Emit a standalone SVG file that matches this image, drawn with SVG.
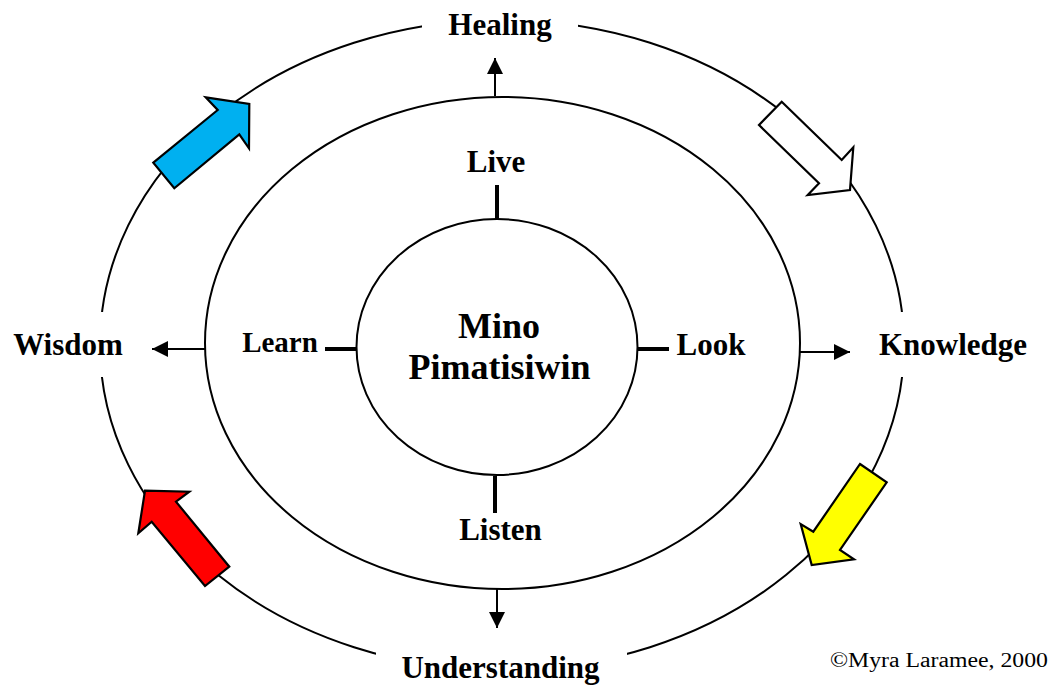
<svg xmlns="http://www.w3.org/2000/svg" width="1053" height="686" viewBox="0 0 1053 686">
<defs>
<style>
.ring{fill:none;stroke:#000;stroke-width:2}
.tick{stroke:#000;stroke-width:4;fill:none}
.con{stroke:#000;stroke-width:2;fill:none}
.lbl{font-family:"Liberation Serif","Times New Roman",serif;font-weight:bold;font-size:31px;fill:#000;text-anchor:middle}
.big{font-size:36px}
.blk{stroke:#000;stroke-width:2.2;stroke-linejoin:miter}
.copy{font-family:"Liberation Serif","Times New Roman",serif;font-size:20px;fill:#000}
</style>
<marker id="ah" viewBox="0 0 10 10" refX="10" refY="5" markerWidth="16" markerHeight="16" markerUnits="userSpaceOnUse" orient="auto">
<path d="M0,0 L10,5 L0,10 Z" fill="#000"/>
</marker>
</defs>
<rect width="1053" height="686" fill="#fff"/>
<g id="outer-ring">
<ellipse class="ring" cx="502" cy="345" rx="402" ry="325"/>
<rect x="422" y="4" width="156" height="46" fill="#fff"/>
<rect x="88" y="312" width="26" height="65" fill="#fff"/>
<rect x="890" y="312" width="26" height="65" fill="#fff"/>
<rect x="376" y="640" width="251" height="46" fill="#fff"/>
</g>
<g id="middle-ring"><ellipse class="ring" cx="502.5" cy="343" rx="297.5" ry="246"/></g>
<g id="center"><ellipse class="ring" cx="497" cy="347" rx="140.5" ry="128"/>
<text class="lbl big" x="499" y="338">Mino</text>
<text class="lbl big" x="499.5" y="379">Pimatisiwin</text></g>
<g id="connectors">
<line class="tick" x1="497" y1="185" x2="497" y2="219"/>
<line class="tick" x1="495" y1="476" x2="495" y2="513"/>
<line class="tick" x1="325" y1="349" x2="357" y2="349"/>
<line class="tick" x1="637" y1="349" x2="669" y2="349"/>
<line class="con" x1="495" y1="96" x2="495" y2="58" marker-end="url(#ah)"/>
<line class="con" x1="497" y1="589" x2="497" y2="628" marker-end="url(#ah)"/>
<line class="con" x1="205" y1="349" x2="152" y2="349" marker-end="url(#ah)"/>
<line class="con" x1="800" y1="352" x2="850" y2="352" marker-end="url(#ah)"/>
</g>
<g id="arrow-blue"><polygon class="blk" fill="#00B0F0" points="153.3,162.7 217.7,110 205.7,97.3 249.3,104 249,148.3 239.3,134.3 174.3,188.3"/></g>
<g id="arrow-white"><polygon class="blk" fill="#fff" points="781.7,101.7 841.7,160 853.3,147.3 850,190 807.7,195 819,183.3 759,125"/></g>
<g id="arrow-yellow"><polygon class="blk" fill="#FFFF00" points="860,464 886.7,482.3 840,550 854,559.3 811.7,565 800.7,524 813.3,531.7"/></g>
<g id="arrow-red"><polygon class="blk" fill="#FF0000" points="145,490.7 189.3,491.7 176,501.7 229.3,566.7 205,586 151.7,521.7 138.3,533.3"/></g>
<g id="healing"><text class="lbl" x="500" y="35">Healing</text></g>
<g id="wisdom"><text class="lbl" x="68" y="355">Wisdom</text></g>
<g id="knowledge"><text class="lbl" x="953" y="355">Knowledge</text></g>
<g id="understanding"><text class="lbl" x="500.5" y="678">Understanding</text></g>
<g id="live"><text class="lbl" x="496" y="172">Live</text></g>
<g id="listen"><text class="lbl" x="500.5" y="540">Listen</text></g>
<g id="learn"><text class="lbl" x="280" y="352" style="font-size:29px">Learn</text></g>
<g id="look"><text class="lbl" x="711" y="355">Look</text></g>
<g id="copyright"><text class="copy" x="830" y="667" textLength="218" lengthAdjust="spacingAndGlyphs">©Myra Laramee, 2000</text></g>
</svg>
